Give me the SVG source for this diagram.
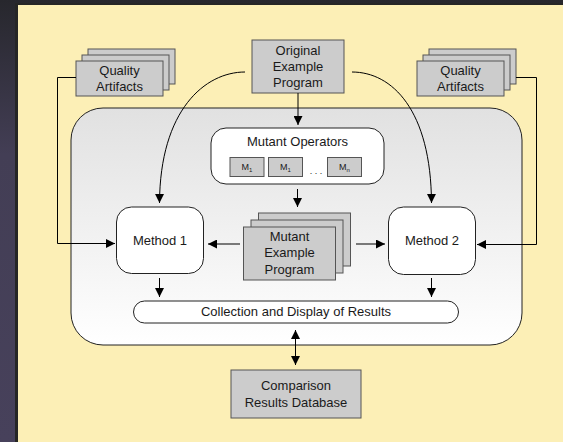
<svg xmlns="http://www.w3.org/2000/svg" width="563" height="442" viewBox="0 0 563 442">
  <defs>
    <linearGradient id="bg" x1="0" y1="0" x2="0" y2="1">
      <stop offset="0" stop-color="#27272d"/>
      <stop offset="0.35" stop-color="#433e55"/>
      <stop offset="1" stop-color="#47415b"/>
    </linearGradient>
    <linearGradient id="innerFill" x1="0" y1="0" x2="0" y2="1">
      <stop offset="0" stop-color="#e1e1e1"/>
      <stop offset="1" stop-color="#ffffff"/>
    </linearGradient>
    <marker id="arrow" viewBox="0 0 10 10" refX="10" refY="5" markerWidth="9" markerHeight="9" markerUnits="userSpaceOnUse" orient="auto-start-reverse">
      <path d="M0,0 L10,5 L0,10 Z" fill="#000"/>
    </marker>
    <style>
      text { font-family: "Liberation Sans", Arial, sans-serif; font-size: 13px; fill: #1a1a1a; text-anchor: middle; }
      .small { font-size: 9px; }
      .sub { font-size: 6px; }
      .gray { fill: #cccccc; stroke: #555555; stroke-width: 1; }
      .white { fill: #ffffff; stroke: #222222; stroke-width: 1; }
      .conn { fill: none; stroke: #000; stroke-width: 1; }
      .arr { marker-end: url(#arrow); }
    </style>
  </defs>

  <!-- backdrop and page -->
  <rect x="0" y="0" width="563" height="442" fill="url(#bg)"/>
  <rect x="15" y="3" width="548" height="439" fill="#262626"/>
  <rect x="18" y="5" width="545" height="437" fill="#fcefb6"/>

  <!-- enclosing process area -->
  <g id="process-area">
    <rect x="71" y="108" width="451" height="237" rx="32" ry="32" fill="url(#innerFill)" stroke="#222" stroke-width="1"/>
  </g>

  <g id="original-program">
    <rect class="gray" x="252" y="40" width="92" height="53"/>
    <text x="298" y="54.5">Original</text>
    <text x="298" y="70.5">Example</text>
    <text x="298" y="86.5">Program</text>
  </g>

  <g id="quality-artifacts-left">
    <rect class="gray" x="88" y="49" width="87" height="35"/>
    <rect class="gray" x="82" y="55" width="87" height="35"/>
    <rect class="gray" x="76" y="61" width="87" height="35"/>
    <text x="119.5" y="75">Quality</text>
    <text x="119.5" y="90.5">Artifacts</text>
  </g>

  <g id="quality-artifacts-right">
    <rect class="gray" x="429" y="49" width="87" height="35"/>
    <rect class="gray" x="423" y="55" width="87" height="35"/>
    <rect class="gray" x="417" y="61" width="87" height="35"/>
    <text x="460.5" y="75">Quality</text>
    <text x="460.5" y="90.5">Artifacts</text>
  </g>

  <g id="mutant-operators">
    <rect class="white" x="211" y="128" width="173" height="56" rx="15" ry="15"/>
    <text x="297.5" y="146">Mutant Operators</text>
    <rect class="gray" x="230" y="157.5" width="34" height="19"/>
    <text class="small" x="247" y="170">M<tspan class="sub" dy="1.5">1</tspan></text>
    <rect class="gray" x="268.5" y="157.5" width="34" height="19"/>
    <text class="small" x="285.5" y="170">M<tspan class="sub" dy="1.5">1</tspan></text>
    <text class="small" x="316" y="174">. . .</text>
    <rect class="gray" x="327.5" y="157.5" width="34" height="19"/>
    <text class="small" x="344.5" y="170">M<tspan class="sub" dy="1.5">n</tspan></text>
  </g>

  <g id="mutant-program">
    <rect class="gray" x="258.5" y="213" width="92" height="53"/>
    <rect class="gray" x="251" y="220" width="92" height="53"/>
    <rect class="gray" x="243.5" y="227" width="92" height="53"/>
    <text x="289.5" y="241">Mutant</text>
    <text x="289.5" y="257">Example</text>
    <text x="289.5" y="273.5">Program</text>
  </g>

  <g id="method-1">
    <rect class="white" x="116.5" y="207" width="87" height="66.5" rx="15" ry="15"/>
    <text x="160" y="244.5">Method 1</text>
  </g>

  <g id="method-2">
    <rect class="white" x="388.5" y="207" width="87" height="67.5" rx="15" ry="15"/>
    <text x="432" y="245">Method 2</text>
  </g>

  <g id="results-display">
    <rect class="white" x="133.5" y="301" width="325" height="22" rx="11" ry="11"/>
    <text x="296" y="316">Collection and Display of Results</text>
  </g>

  <g id="results-database">
    <rect class="gray" x="231" y="370" width="130" height="48"/>
    <text x="296" y="390">Comparison</text>
    <text x="296" y="406.5">Results Database</text>
  </g>

  <g id="connectors">
    <!-- original program feeds both methods and the operators -->
    <path class="conn arr" d="M245,72 C205,72 160,110 159.5,203"/>
    <path class="conn arr" d="M352,72 C392,72 431,110 431.5,203"/>
    <path class="conn arr" d="M298,93 V125"/>
    <!-- operators produce mutants -->
    <path class="conn arr" d="M297.5,189 V207"/>
    <!-- mutants go to each method -->
    <path class="conn arr" d="M240,244 H208"/>
    <path class="conn arr" d="M356,244 H385"/>
    <!-- quality artifacts to methods -->
    <path class="conn arr" d="M76,77.5 H57.5 V243.5 H115"/>
    <path class="conn arr" d="M516,77.5 H536.5 V244.5 H477"/>
    <!-- methods to results -->
    <path class="conn arr" d="M159.5,278 V297"/>
    <path class="conn arr" d="M431.5,278 V297"/>
    <!-- results to database, both ways -->
    <path class="conn arr" d="M295.5,330 V365" marker-start="url(#arrow)"/>
  </g>
</svg>
